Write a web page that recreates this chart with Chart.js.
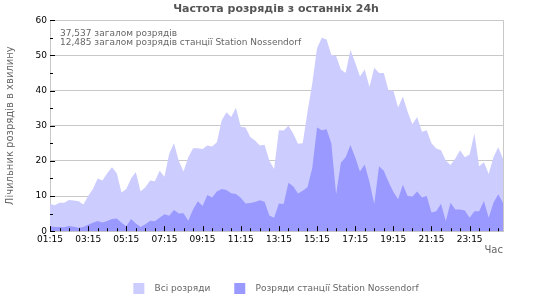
<!DOCTYPE html>
<html>
<head>
<meta charset="utf-8">
<script src="https://cdn.jsdelivr.net/npm/chart.js@4.4.1/dist/chart.umd.min.js"></script>
<style>
html,body{margin:0;padding:0;background:#fff;}
#wrap{width:550px;height:300px;position:relative;}
</style>
</head>
<body>
<div id="wrap"><canvas id="c" width="550" height="300"></canvas></div>
<script>
// Categories: 15-minute steps over the last 24h
const times = ["01:15","01:30","01:45","02:00","02:15","02:30","02:45","03:00","03:15","03:30","03:45","04:00","04:15","04:30","04:45","05:00","05:15","05:30","05:45","06:00","06:15","06:30","06:45","07:00","07:15","07:30","07:45","08:00","08:15","08:30","08:45","09:00","09:15","09:30","09:45","10:00","10:15","10:30","10:45","11:00","11:15","11:30","11:45","12:00","12:15","12:30","12:45","13:00","13:15","13:30","13:45","14:00","14:15","14:30","14:45","15:00","15:15","15:30","15:45","16:00","16:15","16:30","16:45","17:00","17:15","17:30","17:45","18:00","18:15","18:30","18:45","19:00","19:15","19:30","19:45","20:00","20:15","20:30","20:45","21:00","21:15","21:30","21:45","22:00","22:15","22:30","22:45","23:00","23:15","23:30","23:45","00:00","00:15","00:30","00:45","01:00"];

// All strikes per minute
const allStrikes = [7.8,7.4,8.1,8.1,8.9,8.7,8.5,7.6,10,12,15,14.4,16.5,18.2,16.5,11,12,15,16.8,11.3,12.5,14.4,14.2,17.2,15.5,22,25,20,17,21,23.6,23.6,23.4,24.4,
24.1,25.3,31.5,33.8,32.5,35.1,29.7,29.5,26.8,25.8,24.4,24.6,20,17.7,28.7,28.6,30,27.8,24.9,25,34,42,52,55,54.5,50.2,49.8,46,45,51.5,48,44,46,41,
46.5,45,45,40,40,35.2,38.3,34,30.4,32.5,28.3,28.7,25,23.5,23,20.1,18.8,20.7,23,21,21.8,27.8,18.5,19.6,16.3,21,23.9,20.6];

// Station strikes per minute
const stationStrikes = [1.4,1.2,1.2,1.1,1.5,1.3,1.0,1.2,1.8,2.4,2.9,2.5,2.9,3.5,3.6,2.4,1.4,3.5,2.2,1.2,2.0,3.0,2.8,3.8,4.8,4.4,6.0,5.0,5.1,3.0,6.2,8.5,7.2,10.3,
9.6,11.3,12,11.7,10.8,10.6,9.5,7.9,8.0,8.3,8.8,8.4,4.5,3.8,7.9,7.7,13.8,12.8,10.7,11.5,12.5,18,29.5,28.7,29,25,10.5,19.5,21,24.5,21,17,19,14,
7.7,18.5,17.2,14,11.2,9.1,13.2,10,9.9,11.3,9.6,10,5.3,5.7,7.8,2.9,8.1,6.2,6.2,5.9,3.8,5.7,5.7,8.6,3.8,8.1,10.5,8.1];

const xTickLabels = ["01:15","03:15","05:15","07:15","09:15","11:15","13:15","15:15","17:15","19:15","21:15","23:15"];
const seriesNames = ["Всі розряди","Розряди станції Station Nossendorf"];
const totals = ["37,537 загалом розрядів","12,485 загалом розрядів станції Station Nossendorf"];
const chartTitle = "Частота розрядів з останніх 24h";
const yTitle = "Лічильник розрядів в хвилину";
const xTitle = "Час";

Chart.defaults.font.family = "'DejaVu Sans', Verdana, sans-serif";
Chart.defaults.font.size = 9;

const innerTicks = {
  id: 'innerTicks',
  afterDatasetsDraw(chart) {
    const {ctx, chartArea: a, scales: {x, y}} = chart;
    ctx.save();
    ctx.strokeStyle = '#000';
    ctx.lineWidth = 1;
    ctx.beginPath();
    for (let i = 0; i < times.length; i += 2) {
      const px = Math.round(x.getPixelForValue(i)) + 0.5;
      const len = (i % 8 === 0) ? 5 : 3;
      ctx.moveTo(px, a.bottom);
      ctx.lineTo(px, a.bottom - len);
    }
    y.ticks.forEach(t => {
      const py = Math.round(y.getPixelForValue(t.value)) + 0.5;
      const len = (t.value % 10 === 0) ? 5 : 3;
      ctx.moveTo(a.left, py);
      ctx.lineTo(a.left + len, py);
    });
    ctx.stroke();
    ctx.strokeStyle = '#c8c8c8';
    ctx.beginPath();
    const rx = Math.round(a.right) + 0.5;
    ctx.moveTo(rx, a.top);
    ctx.lineTo(rx, a.bottom);
    ctx.stroke();
    ctx.restore();
  },
  afterDraw(chart) {
    const {ctx, chartArea: a} = chart;
    ctx.save();
    ctx.fillStyle = '#666';
    ctx.font = "9px 'DejaVu Sans'";
    ctx.textBaseline = 'middle';
    ctx.fillText(totals[0], a.left + 10, a.top + 13);
    ctx.fillText(totals[1], a.left + 10, a.top + 22);
    ctx.restore();
  }
};

new Chart(document.getElementById('c'), {
  type: 'line',
  data: {
    labels: times,
    datasets: [
      {label: seriesNames[0], data: allStrikes, backgroundColor: '#ccccff', borderColor: '#ccccff', borderWidth: 0, fill: 'origin', pointRadius: 0, tension: 0, order: 1},
      {label: seriesNames[1], data: stationStrikes, backgroundColor: '#9999ff', borderColor: '#9999ff', borderWidth: 0, fill: 'origin', pointRadius: 0, tension: 0, order: 0}
    ]
  },
  options: {
    responsive: false,
    animation: false,
    layout: {padding: {left: 2, right: 0, top: 0, bottom: -4}},
    plugins: {
      title: {display: true, text: chartTitle, color: '#555', font: {size: 11, weight: 'bold'}, padding: {top: 3, bottom: 4}},
      legend: {
        position: 'bottom',
        labels: {
          boxWidth: 11, boxHeight: 11, color: '#666', font: {size: 9}, padding: 24,
          sort: (a, b) => a.datasetIndex - b.datasetIndex,
          generateLabels: (chart) => Chart.defaults.plugins.legend.labels.generateLabels(chart)
            .map(item => Object.assign(item, {text: '  ' + item.text, lineWidth: 0}))
        }
      },
      tooltip: {enabled: false}
    },
    scales: {
      x: {
        type: 'category',
        offset: false,
        grid: {display: false, drawTicks: false},
        border: {display: true, color: '#c8c8c8'},
        ticks: {
          autoSkip: false, maxRotation: 0, minRotation: 0, padding: 3, color: '#000',
          callback: (v, i) => (i % 8 === 0) ? xTickLabels[i / 8] : ''
        },
        title: {display: true, text: xTitle, align: 'end', color: '#666', font: {size: 10}, padding: {top: -4, bottom: 3}}
      },
      y: {
        min: 0, max: 60,
        afterFit: (s) => { s.width = 48; },
        grid: {drawTicks: false, color: (c) => (c.tick && c.tick.value % 10 === 0 && c.tick.value > 0) ? '#c8c8c8' : 'rgba(0,0,0,0)'},
        border: {display: true, color: '#c8c8c8'},
        ticks: {stepSize: 5, padding: 3, color: '#000', callback: (v) => (v % 10 === 0) ? v : ''},
        title: {display: true, text: yTitle, color: '#666', font: {size: 10}, padding: {top: 2, bottom: 2}}
      },
      yRight: {
        position: 'right',
        min: 0, max: 60,
        afterFit: (s) => { s.width = 47; },
        grid: {display: false, drawTicks: false},
        border: {display: false},
        ticks: {display: false}
      }
    }
  },
  plugins: [innerTicks]
});
</script>
</body>
</html>
